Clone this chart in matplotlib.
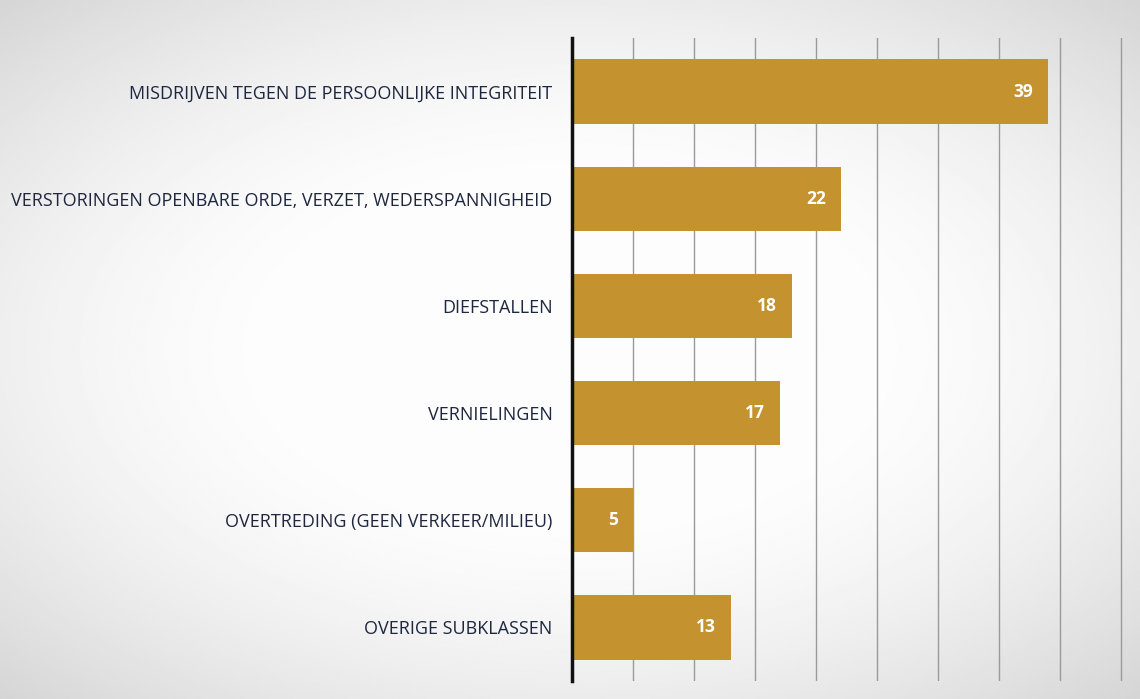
import numpy as np
import matplotlib.pyplot as plt

# categories top to bottom and their counts
categories = [
    "MISDRIJVEN TEGEN DE PERSOONLIJKE INTEGRITEIT",
    "VERSTORINGEN OPENBARE ORDE, VERZET, WEDERSPANNIGHEID",
    "DIEFSTALLEN",
    "VERNIELINGEN",
    "OVERTREDING (GEEN VERKEER/MILIEU)",
    "OVERIGE SUBKLASSEN",
]
counts = [39, 22, 18, 17, 5, 13]

plt.rcParams['font.family'] = ['Open Sans', 'DejaVu Sans']

fig = plt.figure(figsize=(11.4, 6.99), dpi=100)

# paper-like background with soft grey edges
bg = fig.add_axes([0, 0, 1, 1], zorder=0)
yy, xx = np.mgrid[-1:1:300j, -1:1:500j]
r = np.sqrt((xx * 0.85) ** 2 + (yy * 0.9) ** 2)
shade = 0.99 - 0.22 * np.clip(r - 0.45, 0, None) ** 1.5
bg.imshow(shade, cmap='gray', vmin=0, vmax=1, aspect='auto', extent=[0, 1, 0, 1])
bg.axis('off')

ax = fig.add_axes([572 / 1140, 1 - 681 / 699, (1125 - 572) / 1140, (681 - 38) / 699], zorder=1)
ax.patch.set_alpha(0)

ypos = np.arange(len(categories))
ax.barh(ypos, counts, height=0.6, color='#c4922e', zorder=3)
for y, v in zip(ypos, counts):
    ax.text(v - 1.2, y, str(v), ha='right', va='center', color='white',
            fontsize=12.5, fontweight='bold', zorder=4)

ax.set_yticks(ypos)
ax.set_yticklabels(categories, fontsize=13, color='#1e2740')
ax.tick_params(axis='y', length=0, pad=14)
ax.set_ylim(5.5, -0.5)

ax.set_xlim(0, 45.3)
ax.set_xticks(np.arange(5, 50, 5))
ax.tick_params(axis='x', length=0, labelbottom=False)
ax.grid(axis='x', color='#9a9a9a', linewidth=1.0, zorder=1)

for s in ['top', 'right', 'bottom']:
    ax.spines[s].set_visible(False)
ax.spines['left'].set_linewidth(2.5)
ax.spines['left'].set_color('#111111')
ax.spines['left'].set_zorder(5)

fig.savefig('out.png', dpi=100)
